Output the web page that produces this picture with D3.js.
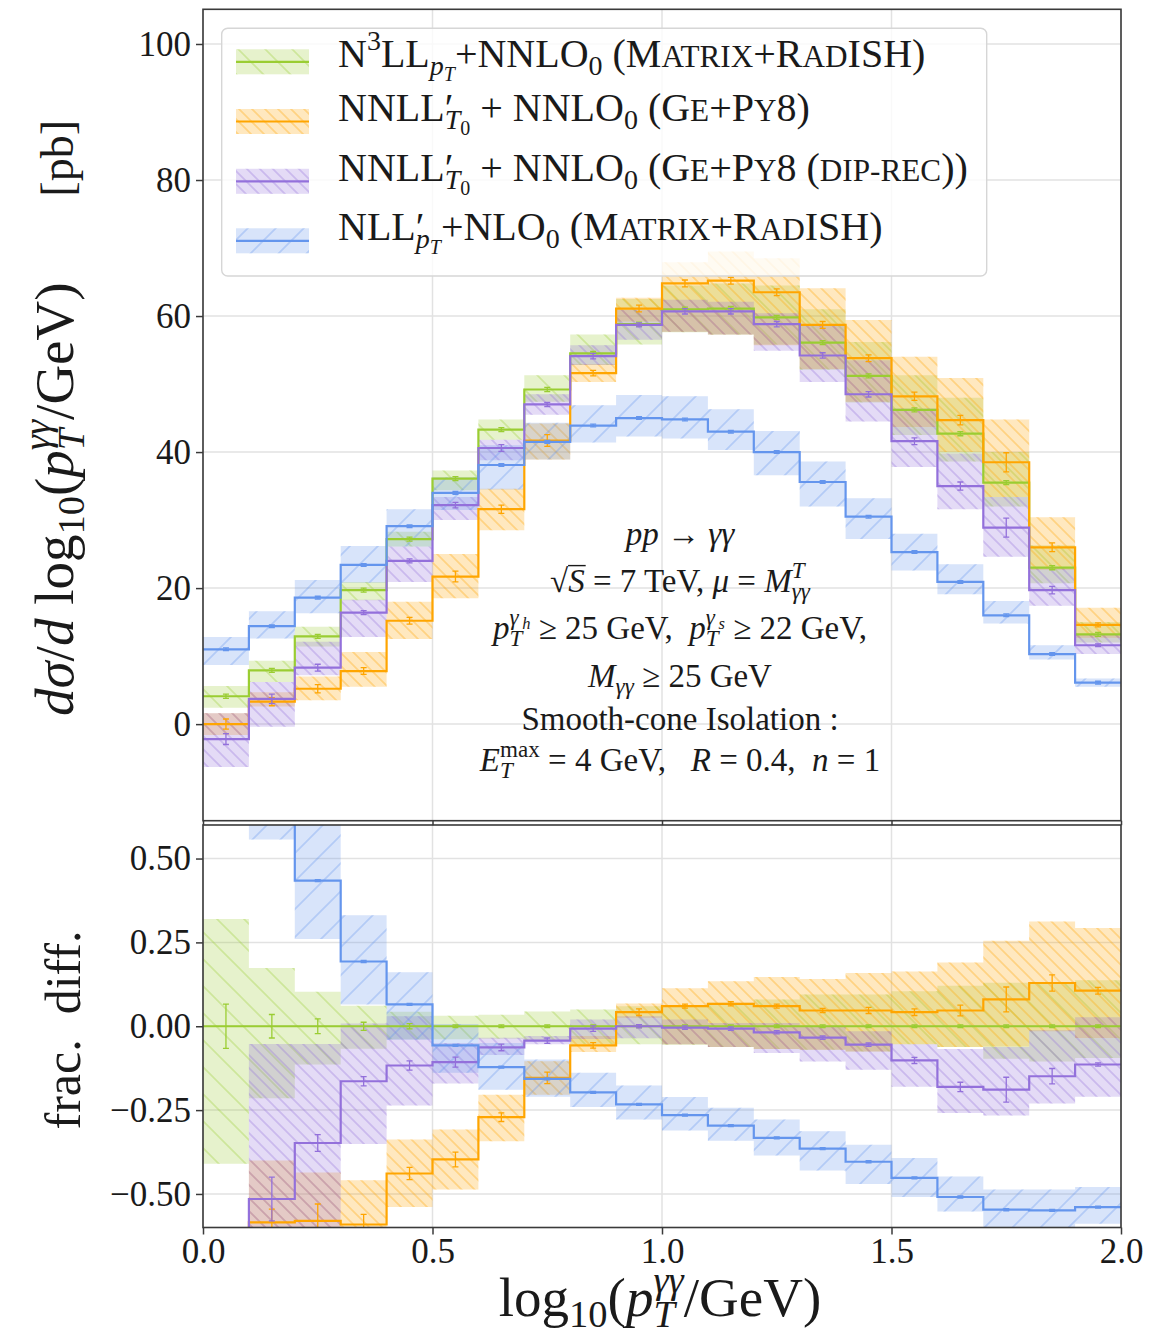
<!DOCTYPE html>
<html>
<head>
<meta charset="utf-8">
<script src="https://cdn.jsdelivr.net/npm/d3@7"></script>
<style>
  body { margin: 0; background: #fff; }
  text { white-space: pre; }
</style>
</head>
<body>
<script>
// bin edges of log10(pT/GeV)
const binEdges = [0.0, 0.1, 0.2, 0.3, 0.4, 0.5, 0.6, 0.7, 0.8, 0.9, 1.0, 1.1, 1.2, 1.3, 1.4, 1.5, 1.6, 1.7, 1.8, 1.9, 2.0];

const xTicks = [0, 0.5, 1.0, 1.5, 2.0];
const topTicks = [0, 20, 40, 60, 80, 100];
const ratioTicks = [-0.5, -0.25, 0, 0.25, 0.5];

// ---- upper panel: d sigma / d log10 pT [pb] ----
const n3llTop    = [4.1, 7.9, 12.9, 19.7, 27.2, 36.1, 43.3, 49.2, 54.5, 58.8, 61.0, 61.1, 59.8, 56.1, 51.2, 46.2, 42.7, 35.5, 23.0, 13.2];
const n3llTopLo  = [2.4, 6.2, 11.4, 18.2, 26.1, 34.4, 41.8, 47.4, 52.8, 55.8, 57.6, 57.3, 55.8, 52.1, 47.3, 42.5, 38.6, 32.0, 20.7, 12.0];
const n3llTopHi  = [5.6, 9.3, 14.3, 20.9, 28.3, 37.3, 44.8, 51.3, 57.3, 62.5, 64.5, 64.8, 64.5, 61.0, 56.2, 51.3, 48.0, 40.0, 26.3, 15.0];
const n3llTopErr = [0.3, 0.3, 0.3, 0.3, 0.3, 0.3, 0.3, 0.3, 0.3, 0.3, 0.3, 0.3, 0.3, 0.3, 0.3, 0.3, 0.3, 0.3, 0.3, 0.3];

const geTop    = [0.0, 3.3, 5.2, 7.8, 15.2, 21.7, 31.6, 41.7, 51.6, 61.1, 64.8, 65.2, 63.5, 58.7, 53.8, 48.2, 44.7, 38.5, 26.0, 14.6];
const geTopLo  = [-1.6, 2.6, 3.5, 5.5, 12.5, 18.5, 28.5, 38.9, 50.3, 59.2, 57.7, 57.3, 55.7, 52.2, 47.4, 43.7, 40.0, 33.4, 22.7, 12.7];
const geTopHi  = [1.6, 4.7, 7.0, 10.6, 18.0, 25.0, 34.6, 44.2, 52.9, 62.7, 67.9, 69.5, 68.5, 64.1, 59.4, 54.0, 50.9, 44.8, 30.4, 17.1];
const geTopErr = [0.75, 0.6, 0.6, 0.5, 0.5, 0.8, 0.6, 0.85, 0.4, 0.5, 0.5, 0.5, 0.5, 0.5, 0.5, 0.6, 0.7, 1.4, 0.65, 0.3];

const geDipTop    = [-2.2, 3.7, 8.3, 16.4, 24.0, 32.2, 40.6, 47.0, 54.1, 58.7, 60.7, 60.7, 58.8, 54.2, 48.5, 41.6, 35.0, 28.9, 19.7, 11.6];
const geDipTopLo  = [-6.3, -0.4, 7.2, 12.8, 20.9, 30.0, 38.8, 45.5, 52.8, 56.5, 57.7, 57.3, 54.9, 50.3, 44.5, 37.8, 31.6, 24.6, 17.4, 10.3];
const geDipTopHi  = [1.6, 6.2, 12.1, 18.3, 26.1, 33.4, 41.8, 48.5, 55.7, 60.9, 62.4, 62.1, 60.4, 58.7, 53.5, 46.4, 39.8, 33.4, 22.9, 13.1];
const geDipTopErr = [0.8, 0.7, 0.5, 0.3, 0.3, 0.4, 0.5, 0.3, 0.4, 0.3, 0.4, 0.4, 0.4, 0.4, 0.4, 0.5, 0.6, 1.4, 0.55, 0.2];

const nllTop    = [11.0, 14.4, 18.6, 23.4, 29.1, 34.0, 38.1, 41.5, 43.9, 45.0, 44.8, 43.0, 40.0, 35.6, 30.5, 25.3, 20.9, 16.0, 10.3, 6.1];
const nllTopLo  = [8.7, 12.6, 16.3, 20.8, 26.1, 31.5, 34.5, 38.9, 41.4, 42.3, 42.0, 40.3, 36.6, 32.0, 27.2, 22.6, 19.1, 14.8, 9.5, 5.5];
const nllTopHi  = [12.8, 16.6, 21.2, 26.2, 31.6, 36.3, 41.0, 44.3, 46.9, 48.4, 48.2, 46.3, 43.1, 38.6, 33.2, 28.0, 23.5, 18.1, 11.6, 6.7];
const nllTopErr = [0.2, 0.2, 0.2, 0.2, 0.2, 0.2, 0.2, 0.2, 0.2, 0.2, 0.2, 0.2, 0.2, 0.2, 0.2, 0.2, 0.2, 0.2, 0.2, 0.2];

// ---- lower panel: fractional difference w.r.t. N3LL ----
const n3llRatio    = [0, 0, 0, 0, 0, 0, 0, 0, 0, 0, 0, 0, 0, 0, 0, 0, 0, 0, 0, 0];
const n3llRatioLo  = [-0.41, -0.215, -0.114, -0.067, -0.039, -0.039, -0.037, -0.044, -0.054, -0.054, -0.055, -0.062, -0.068, -0.07, -0.075, -0.054, -0.062, -0.097, -0.105, -0.095];
const n3llRatioHi  = [0.32, 0.174, 0.103, 0.061, 0.043, 0.031, 0.034, 0.044, 0.05, 0.06, 0.06, 0.07, 0.08, 0.095, 0.095, 0.104, 0.121, 0.13, 0.13, 0.137];
const n3llRatioErr = [0.066, 0.035, 0.022, 0.012, 0.008, 0.004, 0.004, 0.004, 0.004, 0.004, 0.004, 0.004, 0.004, 0.004, 0.004, 0.004, 0.004, 0.004, 0.004, 0.004];

const geRatio    = [-1.0, -0.585, -0.58, -0.591, -0.439, -0.397, -0.271, -0.154, -0.057, 0.042, 0.06, 0.067, 0.06, 0.047, 0.047, 0.042, 0.047, 0.08, 0.129, 0.106];
const geRatioLo  = [-1.3, -0.75, -0.72, -0.7, -0.539, -0.487, -0.343, -0.204, -0.077, 0.025, -0.054, -0.062, -0.068, -0.07, -0.075, -0.054, -0.062, -0.06, -0.015, -0.035];
const geRatioHi  = [-0.7, -0.4, -0.436, -0.459, -0.338, -0.308, -0.204, -0.104, -0.029, 0.068, 0.113, 0.134, 0.147, 0.141, 0.159, 0.163, 0.19, 0.255, 0.312, 0.293];
const geRatioErr = [0.05, 0.04, 0.05, 0.03, 0.018, 0.022, 0.013, 0.017, 0.008, 0.01, 0.006, 0.006, 0.006, 0.006, 0.009, 0.01, 0.016, 0.037, 0.024, 0.01];

const geDipRatio    = [-1.54, -0.515, -0.348, -0.164, -0.117, -0.107, -0.063, -0.043, -0.007, 0.0, -0.004, -0.007, -0.018, -0.034, -0.055, -0.102, -0.181, -0.189, -0.149, -0.114];
const geDipRatioLo  = [-2.0, -0.8, -0.7, -0.351, -0.236, -0.171, -0.086, -0.054, -0.038, -0.036, -0.054, -0.062, -0.08, -0.105, -0.13, -0.18, -0.259, -0.266, -0.23, -0.21];
const geDipRatioHi  = [-1.0, -0.053, -0.053, 0.008, 0.03, -0.05, -0.034, -0.029, 0.02, 0.03, 0.02, 0.01, 0.01, 0.0, -0.015, -0.054, -0.068, -0.062, -0.012, 0.027];
const geDipRatioErr = [0.05, 0.065, 0.025, 0.014, 0.014, 0.015, 0.01, 0.008, 0.008, 0.005, 0.005, 0.005, 0.005, 0.005, 0.005, 0.009, 0.014, 0.037, 0.023, 0.005];

const nllRatio    = [1.68, 0.82, 0.434, 0.193, 0.065, -0.057, -0.122, -0.157, -0.197, -0.233, -0.265, -0.296, -0.333, -0.365, -0.404, -0.452, -0.509, -0.547, -0.549, -0.539];
const nllRatioLo  = [1.3, 0.557, 0.26, 0.065, -0.04, -0.139, -0.189, -0.21, -0.241, -0.278, -0.311, -0.341, -0.385, -0.43, -0.47, -0.509, -0.552, -0.62, -0.62, -0.589];
const nllRatioHi  = [2.0, 1.2, 0.8, 0.331, 0.161, 0.007, -0.05, -0.099, -0.139, -0.177, -0.211, -0.243, -0.278, -0.313, -0.353, -0.393, -0.448, -0.487, -0.487, -0.479];
const nllRatioErr = [0.003, 0.003, 0.003, 0.003, 0.003, 0.003, 0.003, 0.003, 0.003, 0.003, 0.003, 0.003, 0.003, 0.003, 0.003, 0.003, 0.003, 0.003, 0.003, 0.003];

const FONT = "'Liberation Serif', 'DejaVu Serif', serif";
const INK = '#1a1a1a';
const SPINE = '#3a3a3a';

const series = [
  { key: 'n3ll',  color: '#9acd32', hatch: 'back', gap: 27,
    top: [n3llTop, n3llTopLo, n3llTopHi, n3llTopErr],
    ratio: [n3llRatio, n3llRatioLo, n3llRatioHi, n3llRatioErr] },
  { key: 'ge',    color: '#ffa500', hatch: 'back', gap: 13,
    top: [geTop, geTopLo, geTopHi, geTopErr],
    ratio: [geRatio, geRatioLo, geRatioHi, geRatioErr] },
  { key: 'gedip', color: '#9370db', hatch: 'back', gap: 13,
    top: [geDipTop, geDipTopLo, geDipTopHi, geDipTopErr],
    ratio: [geDipRatio, geDipRatioLo, geDipRatioHi, geDipRatioErr] },
  { key: 'nll',   color: '#6495ed', hatch: 'fwd', gap: 28,
    top: [nllTop, nllTopLo, nllTopHi, nllTopErr],
    ratio: [nllRatio, nllRatioLo, nllRatioHi, nllRatioErr] }
];

const width = 1167, height = 1340;
const left = 203, right = 1121;

const x = d3.scaleLinear().domain([0, 2]).range([left, right]);
const yTop = d3.scaleLinear().domain([-14.2, 105.1]).range([820.7, 9.3]);
const yRat = d3.scaleLinear().domain([-0.6, 0.6]).range([1227.5, 825]);

const svg = d3.select('body').append('svg')
  .attr('width', width)
  .attr('height', height)
  .attr('xmlns', 'http://www.w3.org/2000/svg')
  .style('font-family', FONT);

svg.append('rect').attr('width', width).attr('height', height).attr('fill', '#fff');

const defs = svg.append('defs');

// hatch patterns, one per series
series.forEach(s => {
  const g = s.gap;
  const d = s.hatch === 'back'
    ? `M0,0L${g},${g}M-2,${g - 2}L2,${g + 2}M${g - 2},-2L${g + 2},2`
    : `M0,${g}L${g},0M-2,2L2,-2M${g - 2},${g + 2}L${g + 2},${g - 2}`;
  defs.append('pattern')
    .attr('id', `hatch-${s.key}`)
    .attr('patternUnits', 'userSpaceOnUse')
    .attr('width', g)
    .attr('height', g)
    .append('path')
    .attr('d', d)
    .attr('stroke', s.color)
    .attr('stroke-opacity', 0.32)
    .attr('stroke-width', 1.7)
    .attr('fill', 'none');
});

const panels = [
  { id: 'top', y: yTop, ticks: topTicks, fmt: d3.format('d'), pick: s => s.top },
  { id: 'ratio', y: yRat, ticks: ratioTicks, fmt: d3.format('.2f'), pick: s => s.ratio }
];

panels.forEach(p => {
  const [y0, y1] = p.y.range();
  defs.append('clipPath').attr('id', `clip-${p.id}`)
    .append('rect')
    .attr('x', left).attr('y', y1)
    .attr('width', right - left).attr('height', y0 - y1);
});

// rich text with sub/superscripts, italics and small caps
const scripts = {
  n:   { z: 1,    dy: 0 },
  sc:  { z: 0.78, dy: 0 },
  sup: { z: 0.7,  dy: -0.42 },
  sub: { z: 0.7,  dy: 0.2 },
  ss:  { z: 0.5,  dy: 0.36 },
  ps:  { z: 0.5,  dy: -0.3 }
};

const rich = (textSel, items, size) => {
  let cur = 0, pending = 0, prevLen = 0;
  items.forEach(it => {
    const sc = scripts[it.k || 'n'];
    const target = sc.dy * size;
    const ts = textSel.append('tspan')
      .attr('font-size', (size * sc.z).toFixed(1))
      .text(it.t);
    if (target - cur) ts.attr('dy', (target - cur).toFixed(2));
    if (it.i) ts.attr('font-style', 'italic');
    let dx = pending + (it.dx || 0) * size;
    if (it.stack) dx -= prevLen;
    if (dx) ts.attr('dx', dx.toFixed(2));
    const len = ts.node().getComputedTextLength();
    pending = it.stack ? Math.max(0, prevLen - len) : 0;
    prevLen = len;
    cur = target;
  });
  return textSel;
};

const stepArea = (y, vals) => d3.area()
  .curve(d3.curveStepAfter)
  .x(d => x(d))
  .y0((d, i) => y(vals[1][Math.min(i, 19)]))
  .y1((d, i) => y(vals[2][Math.min(i, 19)]));

const stepLine = (y, vals) => d3.line()
  .curve(d3.curveStepAfter)
  .x(d => x(d))
  .y((d, i) => y(vals[0][Math.min(i, 19)]));

panels.forEach(p => {
  const y = p.y;
  const [yb, yt] = y.range();
  const g = svg.append('g').attr('id', `panel-${p.id}`);

  // grid
  g.append('g').selectAll('line').data(xTicks).join('line')
    .attr('x1', d => x(d)).attr('x2', d => x(d))
    .attr('y1', yt).attr('y2', yb)
    .attr('stroke', '#e2e2e2').attr('stroke-width', 1.5);
  g.append('g').selectAll('line').data(p.ticks).join('line')
    .attr('x1', left).attr('x2', right)
    .attr('y1', d => y(d)).attr('y2', d => y(d))
    .attr('stroke', '#e2e2e2').attr('stroke-width', 1.5);

  const plot = g.append('g').attr('clip-path', `url(#clip-${p.id})`);

  series.forEach(s => {
    const vals = p.pick(s);
    const area = stepArea(y, vals);
    plot.append('path').datum(binEdges)
      .attr('d', area)
      .attr('fill', s.color).attr('fill-opacity', 0.25);
    plot.append('path').datum(binEdges)
      .attr('d', area)
      .attr('fill', `url(#hatch-${s.key})`);
  });

  series.forEach(s => {
    const vals = p.pick(s);
    plot.append('path').datum(binEdges)
      .attr('d', stepLine(y, vals))
      .attr('fill', 'none')
      .attr('stroke', s.color)
      .attr('stroke-width', 2.2);

    const centers = binEdges.slice(0, 20).map((e, i) => ({
      cx: x((e + binEdges[i + 1]) / 2),
      lo: y(vals[0][i] - vals[3][i]),
      hi: y(vals[0][i] + vals[3][i])
    }));
    const eb = plot.append('g')
      .attr('stroke', s.color).attr('stroke-width', 1.3).attr('fill', 'none');
    eb.selectAll('path').data(centers).join('path')
      .attr('d', d => `M${d.cx},${d.lo}V${d.hi}M${d.cx - 3},${d.lo}h6M${d.cx - 3},${d.hi}h6`);
  });

  // frame
  g.append('rect')
    .attr('x', left).attr('y', yt)
    .attr('width', right - left).attr('height', yb - yt)
    .attr('fill', 'none').attr('stroke', SPINE).attr('stroke-width', 1.6);

  // y axis
  const ya = g.append('g')
    .attr('transform', `translate(${left},0)`)
    .call(d3.axisLeft(y).tickValues(p.ticks).tickSize(7).tickPadding(5).tickFormat(p.fmt));
  ya.select('.domain').remove();
  ya.selectAll('.tick line').attr('stroke', SPINE).attr('stroke-width', 1.5);
  ya.selectAll('.tick text')
    .attr('font-family', FONT).attr('font-size', 35).attr('fill', INK);
});

// x ticks of the upper panel (no labels) and of the lower panel
const xaTop = svg.append('g')
  .attr('transform', `translate(0,${yTop.range()[0]})`)
  .call(d3.axisBottom(x).tickValues(xTicks).tickSize(4.5).tickFormat(''));
xaTop.select('.domain').remove();
xaTop.selectAll('.tick line').attr('stroke', SPINE).attr('stroke-width', 1.5);

const xa = svg.append('g')
  .attr('transform', `translate(0,${yRat.range()[0]})`)
  .call(d3.axisBottom(x).tickValues(xTicks).tickSize(7).tickPadding(4).tickFormat(d3.format('.1f')));
xa.select('.domain').remove();
xa.selectAll('.tick line').attr('stroke', SPINE).attr('stroke-width', 1.5);
xa.selectAll('.tick text')
  .attr('font-family', FONT).attr('font-size', 35).attr('fill', INK);

// legend
const legend = svg.append('g').attr('id', 'legend');
legend.append('rect')
  .attr('x', 221.7).attr('y', 28.3)
  .attr('width', 765).attr('height', 247.7)
  .attr('rx', 6)
  .attr('fill', '#fff').attr('fill-opacity', 0.8)
  .attr('stroke', '#d6d6d6').attr('stroke-width', 1.4);

const legendText = [
  [{ t: 'N' }, { t: '3', k: 'sup' }, { t: 'LL' }, { t: 'p', k: 'sub', i: 1 }, { t: 'T', k: 'ss', i: 1 },
   { t: '+NNLO' }, { t: '0', k: 'sub' }, { t: ' (M' }, { t: 'ATRIX', k: 'sc' }, { t: '+R' }, { t: 'AD', k: 'sc' }, { t: 'ISH)' }],
  [{ t: 'NNLL' }, { t: '′' }, { t: 'T', k: 'sub', i: 1, stack: 1 }, { t: '0', k: 'ss' },
   { t: ' + NNLO' }, { t: '0', k: 'sub' }, { t: ' (G' }, { t: 'E', k: 'sc' }, { t: '+P' }, { t: 'Y', k: 'sc' }, { t: '8)' }],
  [{ t: 'NNLL' }, { t: '′' }, { t: 'T', k: 'sub', i: 1, stack: 1 }, { t: '0', k: 'ss' },
   { t: ' + NNLO' }, { t: '0', k: 'sub' }, { t: ' (G' }, { t: 'E', k: 'sc' }, { t: '+P' }, { t: 'Y', k: 'sc' },
   { t: '8 (' }, { t: 'DIP-REC', k: 'sc' }, { t: '))' }],
  [{ t: 'NLL' }, { t: '′' }, { t: 'p', k: 'sub', i: 1, stack: 1 }, { t: 'T', k: 'ss', i: 1 },
   { t: '+NLO' }, { t: '0', k: 'sub' }, { t: ' (M' }, { t: 'ATRIX', k: 'sc' }, { t: '+R' }, { t: 'AD', k: 'sc' }, { t: 'ISH)' }]
];
const legendHandleY = [61.8, 121.5, 181.3, 240.8];
const legendBaseY = [66.7, 120.7, 180.7, 239.5];

series.forEach((s, i) => {
  const hy = legendHandleY[i];
  legend.append('rect')
    .attr('x', 236).attr('y', hy - 12.5).attr('width', 73).attr('height', 25)
    .attr('fill', s.color).attr('fill-opacity', 0.25);
  legend.append('rect')
    .attr('x', 236).attr('y', hy - 12.5).attr('width', 73).attr('height', 25)
    .attr('fill', `url(#hatch-${s.key})`);
  legend.append('line')
    .attr('x1', 236).attr('x2', 309).attr('y1', hy).attr('y2', hy)
    .attr('stroke', s.color).attr('stroke-width', 2.2);
  rich(legend.append('text')
    .attr('x', 338).attr('y', legendBaseY[i])
    .attr('fill', INK), legendText[i], 40);
});

// process annotation
const noteSize = 33;
const noteLines = [
  { y: 545, items: [{ t: 'pp', i: 1 }, { t: ' → ' }, { t: 'γγ', i: 1 }] },
  { y: 592, items: [{ t: '√' }, { t: 'S', i: 1 }, { t: ' = 7 TeV, ' }, { t: 'μ', i: 1 }, { t: ' = ' },
    { t: 'M', i: 1 }, { t: 'γγ', k: 'sub', i: 1 }, { t: 'T', k: 'sup', i: 1, stack: 1 }] },
  { y: 639, items: [{ t: 'p', i: 1 }, { t: 'T', k: 'sub', i: 1 }, { t: 'γ', k: 'sup', i: 1, stack: 1 }, { t: 'h', k: 'ps', i: 1 },
    { t: ' ≥ 25 GeV,  ' }, { t: 'p', i: 1 }, { t: 'T', k: 'sub', i: 1 }, { t: 'γ', k: 'sup', i: 1, stack: 1 }, { t: 's', k: 'ps', i: 1 },
    { t: ' ≥ 22 GeV,' }] },
  { y: 687, items: [{ t: 'M', i: 1 }, { t: 'γγ', k: 'sub', i: 1 }, { t: ' ≥ 25 GeV' }] },
  { y: 730, items: [{ t: 'Smooth-cone Isolation :' }] },
  { y: 771, items: [{ t: 'E', i: 1 }, { t: 'T', k: 'sub', i: 1 }, { t: 'max', k: 'sup', stack: 1 },
    { t: ' = 4 GeV,   ' }, { t: 'R', i: 1 }, { t: ' = 0.4,  ' }, { t: 'n', i: 1 }, { t: ' = 1' }] }
];
const note = svg.append('g').attr('id', 'note');
noteLines.forEach(l => {
  rich(note.append('text')
    .attr('x', 680).attr('y', l.y)
    .attr('text-anchor', 'middle')
    .attr('fill', INK), l.items, noteSize);
});
// overbar of the square root
{
  const tspans = note.selectAll('text').filter((d, i) => i === 1).selectAll('tspan').nodes();
  const root = tspans[0].getBBox(), sBox = tspans[1].getBBox();
  note.append('line')
    .attr('x1', root.x + root.width - 1).attr('x2', sBox.x + sBox.width + 1)
    .attr('y1', 592 - noteSize * 0.8).attr('y2', 592 - noteSize * 0.8)
    .attr('stroke', INK).attr('stroke-width', 1.4);
}

// axis labels
const labelSize = 55;
rich(svg.append('text')
  .attr('transform', 'translate(73,716) rotate(-90)')
  .attr('fill', INK),
  [{ t: 'dσ', i: 1 }, { t: '/' }, { t: 'd', i: 1 }, { t: ' log' }, { t: '10', k: 'sub' }, { t: '(' },
   { t: 'p', i: 1 }, { t: 'T', k: 'sub', i: 1 }, { t: 'γγ', k: 'sup', i: 1, stack: 1 }, { t: '/GeV)' }], labelSize);
svg.append('text')
  .attr('transform', 'translate(73,120) rotate(-90)')
  .attr('text-anchor', 'end')
  .attr('font-size', 46)
  .attr('fill', INK)
  .text('[pb]');

svg.append('text')
  .attr('transform', 'translate(80,1030) rotate(-90)')
  .attr('text-anchor', 'middle')
  .attr('font-size', 50)
  .attr('fill', INK)
  .text('frac.  diff.');

rich(svg.append('text')
  .attr('x', 660).attr('y', 1316)
  .attr('text-anchor', 'middle')
  .attr('fill', INK),
  [{ t: 'log' }, { t: '10', k: 'sub' }, { t: '(' }, { t: 'p', i: 1 }, { t: 'T', k: 'sub', i: 1 },
   { t: 'γγ', k: 'sup', i: 1, stack: 1 }, { t: '/GeV)' }], labelSize);
</script>
</body>
</html>
